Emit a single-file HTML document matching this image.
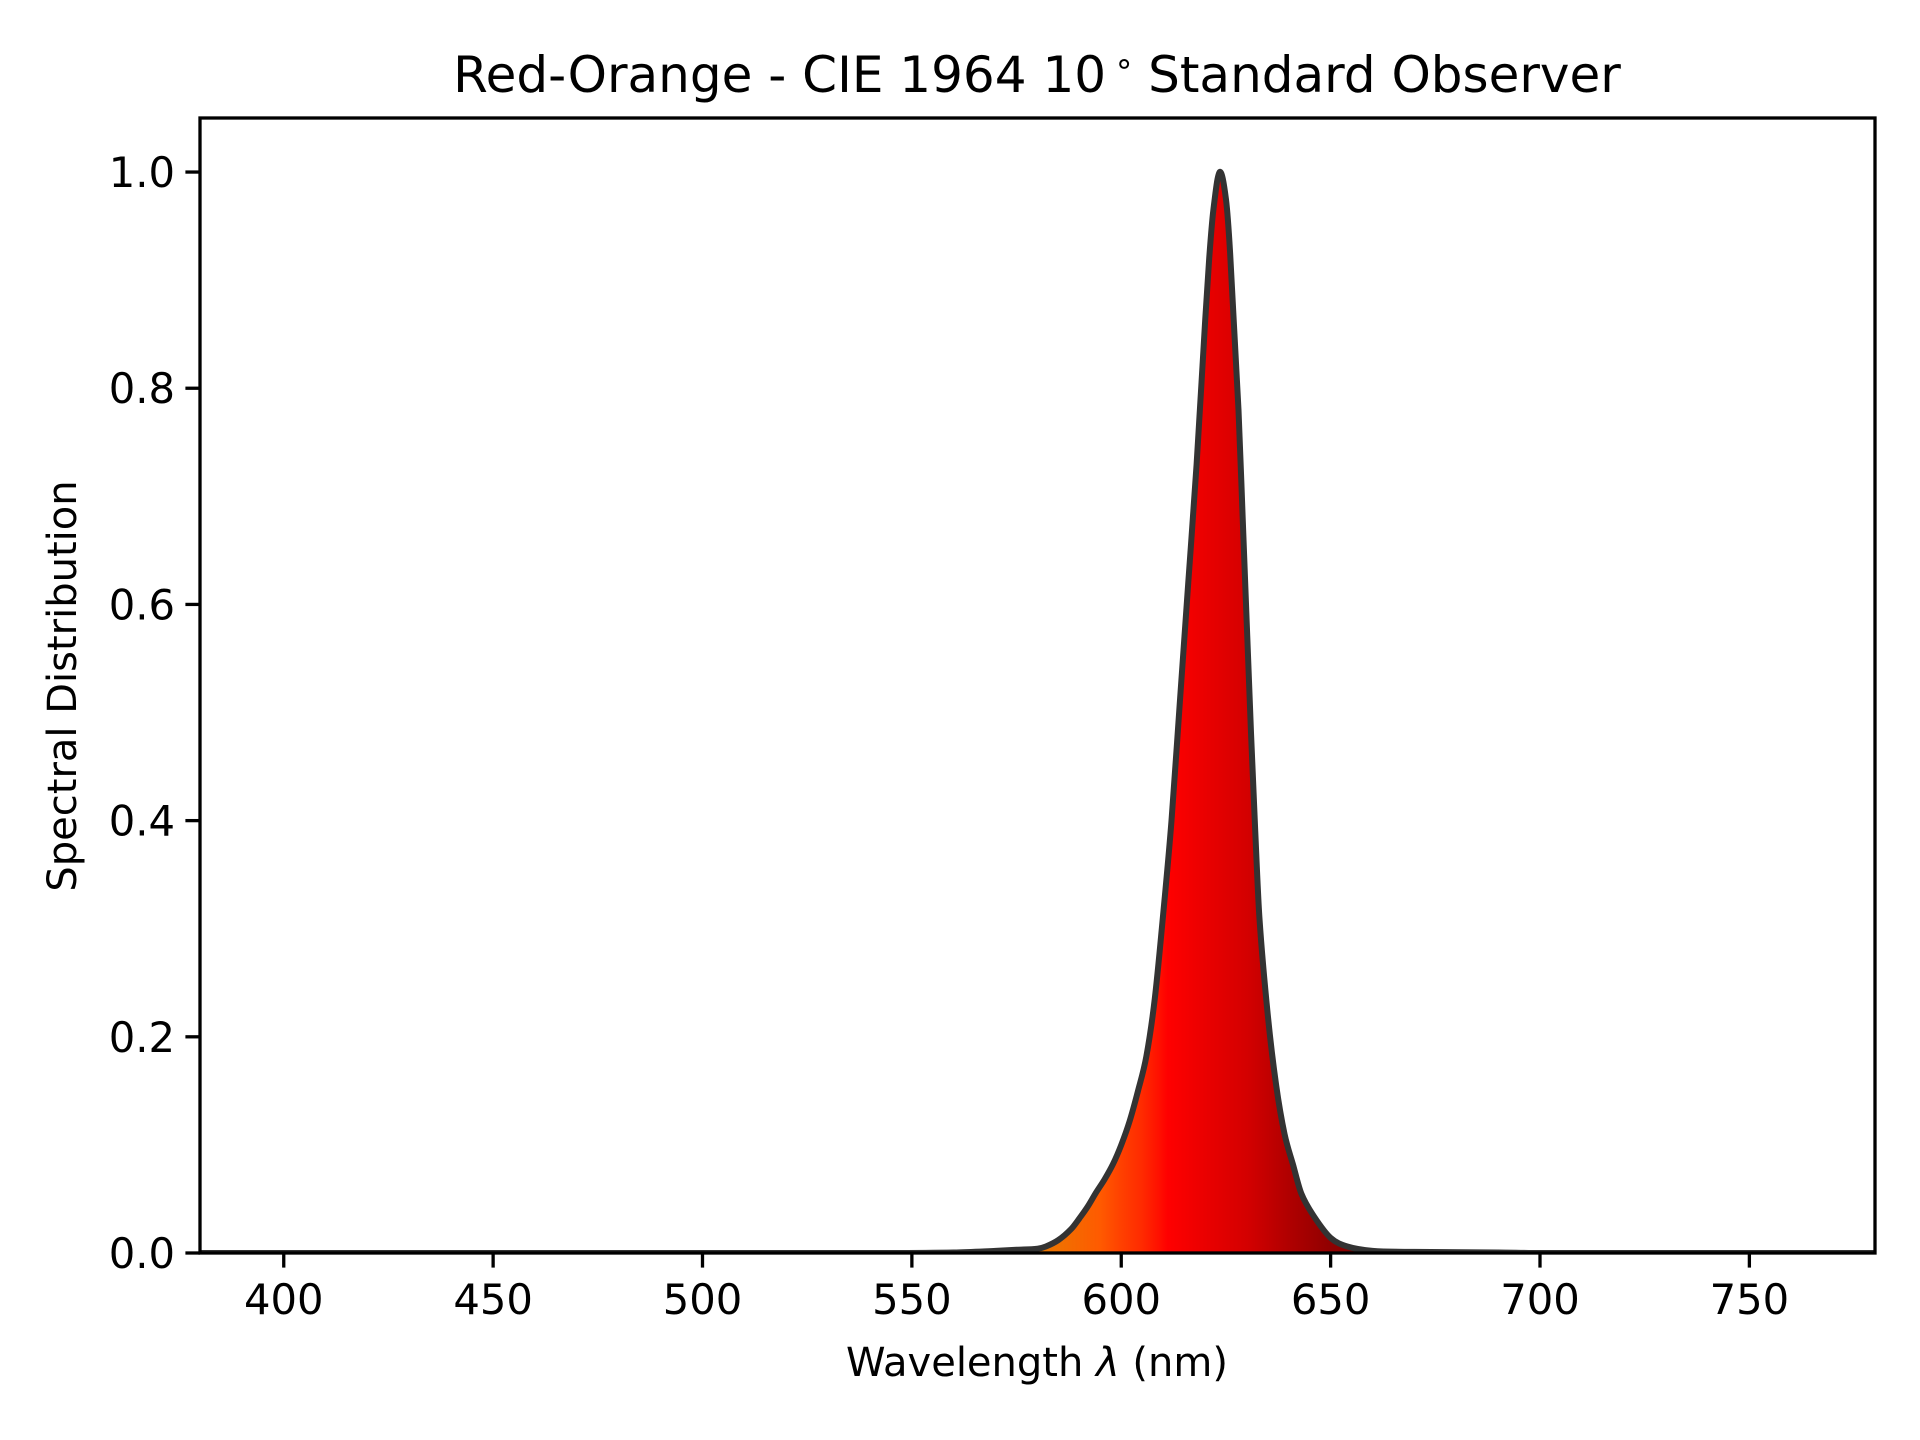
<!DOCTYPE html>
<html><head><meta charset="utf-8"><style>
html,body{margin:0;padding:0;background:#fff;}
svg{display:block;font-family:"DejaVu Sans","Liberation Sans",sans-serif;}
</style></head><body>
<svg id="chart" width="1920" height="1440" viewBox="0 0 1920 1440">
<defs>
<linearGradient id="spec" gradientUnits="userSpaceOnUse" x1="200" y1="0" x2="1875" y2="0">
</linearGradient>
</defs>
<text x="1037" y="92" font-size="50" text-anchor="middle" fill="#000">Red-Orange - CIE 1964 10<tspan font-size="32" dx="8" dy="-18">∘</tspan><tspan dx="14" dy="18">Standard Observer</tspan></text>
<g id="plot"></g>
<text x="1037" y="1376" font-size="40" text-anchor="middle" fill="#000">Wavelength <tspan font-style="italic">λ</tspan> (nm)</text>
<text transform="translate(76,686) rotate(-90)" font-size="40" text-anchor="middle" fill="#000">Spectral Distribution</text>
</svg>
<script>
const wavelengths = [360,540,560,570,575,580,582,585,588,590,592,594,596,598,600,602,604,606,608,610,612,614,616,618,620,621,622,623.5,625,626,628,629,631,632,633,635,637,639,641,643,646,650,654,660,670,690,700,780];
const values = [0,0,0.0005,0.002,0.003,0.004,0.006,0.012,0.022,0.032,0.043,0.056,0.068,0.082,0.10,0.122,0.15,0.182,0.235,0.313,0.40,0.51,0.62,0.73,0.86,0.92,0.965,1.0,0.975,0.925,0.78,0.68,0.48,0.39,0.31,0.22,0.155,0.11,0.082,0.055,0.034,0.014,0.006,0.002,0.001,0.0005,0,0];
const xTicks = [400,450,500,550,600,650,700,750];
const yTicks = [0,0.2,0.4,0.6,0.8,1.0];
const yTickLabels = ["0.0","0.2","0.4","0.6","0.8","1.0"];
const gradWl = [380,575,585,595,600,605,609,611,620,630,640,650,660,780];
const gradCol = ["#d08000","#e08000","#f07000","#ff5a00","#ff4000","#ff2a00","#ff1000","#ff0000","#ea0000","#d40000","#b00000","#900000","#800000","#800000"];

const L=200,R=1875,T=118,B=1253,X0=380,X1=780,Y0=0,Y1=1.05;
const sx=v=>L+(v-X0)/(X1-X0)*(R-L);
const sy=v=>B-(v-Y0)/(Y1-Y0)*(B-T);
const NS="http://www.w3.org/2000/svg";
const svg=document.getElementById('chart');
const plot=document.getElementById('plot');
const grad=document.getElementById('spec');
gradWl.forEach((w,i)=>{
  const s=document.createElementNS(NS,'stop');
  s.setAttribute('offset',((sx(w)-L)/(R-L)).toFixed(4));
  s.setAttribute('stop-color',gradCol[i]);
  grad.appendChild(s);
});
function mk(tag,attrs,parent){const e=document.createElementNS(NS,tag);for(const k in attrs)e.setAttribute(k,attrs[k]);(parent||plot).appendChild(e);return e;}
const cp=mk('clipPath',{id:'clip'},svg.querySelector('defs'));
mk('rect',{x:L,y:T,width:R-L,height:B-T},cp);
const pts=wavelengths.map((w,i)=>[sx(w),sy(values[i])]);
let d=`M${pts[0][0]},${pts[0][1]}`;
for(let i=0;i<pts.length-1;i++){
  const p0=pts[Math.max(0,i-1)],p1=pts[i],p2=pts[i+1],p3=pts[Math.min(pts.length-1,i+2)];
  const h=p2[0]-p1[0];
  const m1=(p2[1]-p0[1])/((p2[0]-p0[0])||1), m2=(p3[1]-p1[1])/((p3[0]-p1[0])||1);
  let c1y=p1[1]+m1*h/3, c2y=p2[1]-m2*h/3;
  c1y=Math.min(c1y,B); c2y=Math.min(c2y,B);
  d+=` C${p1[0]+h/3},${c1y} ${p2[0]-h/3},${c2y} ${p2[0]},${p2[1]}`;
}
const g=mk('g',{'clip-path':'url(#clip)'});
const area=mk('path',{d:d+` L${pts[pts.length-1][0]},${B} L${pts[0][0]},${B} Z`,fill:'url(#spec)'},g);


const line=mk('path',{d:d,fill:'none',stroke:'#333333','stroke-width':6,'stroke-linejoin':'round'},g);


const frame=mk('rect',{x:L,y:T,width:R-L,height:B-T,fill:'none',stroke:'#000','stroke-width':3.3});


xTicks.forEach(t=>{
  const x=sx(t);
  const tk=mk('line',{x1:x,x2:x,y1:B,y2:B+14.6,stroke:'#000','stroke-width':3.3});
  
  
  const tx=mk('text',{x:x,y:B+61,'font-size':41.7,'text-anchor':'middle',fill:'#000'});
  tx.textContent=t;
  
  
});
yTicks.forEach((t,i)=>{
  const y=sy(t);
  const tk=mk('line',{x1:L-14.6,x2:L,y1:y,y2:y,stroke:'#000','stroke-width':3.3});
  
  
  const tx=mk('text',{x:L-25,y:y+15,'font-size':41.7,'text-anchor':'end',fill:'#000'});
  tx.textContent=yTickLabels[i];
  
  
});
</script>
</body></html>
